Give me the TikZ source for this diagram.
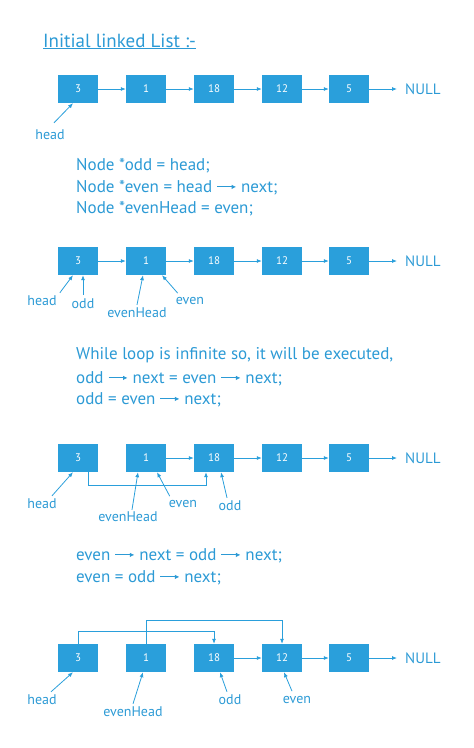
\documentclass[tikz,border=0pt]{standalone}
\usepackage{fontspec}
\setmainfont{PT Sans}
\usetikzlibrary{arrows.meta}

\definecolor{listblue}{HTML}{2A9FDB}
\definecolor{codeblue}{HTML}{2C9AD5}

\newcommand{\ptrarrow}{\tikz[baseline=-0.6ex]\draw[codeblue,line width=0.9pt,-{Latex[length=4.5pt,width=4.5pt]}] (0pt,0pt) -- (19pt,0pt);}

\tikzset{
  listbox/.style={fill=listblue, text=white, minimum width=40pt, minimum height=28pt,
    inner sep=0pt, font=\fontsize{11}{12}\selectfont},
  link/.style={listblue, line width=0.8pt, -{Latex[length=5pt,width=4pt]}},
  tag/.style={text=codeblue, inner sep=1pt, font=\fontsize{14}{16}\selectfont},
  code/.style={text=codeblue, anchor=base west, inner sep=0pt, font=\fontsize{17}{20}\selectfont},
  nullnode/.style={text=codeblue, anchor=west, inner xsep=8pt, inner ysep=0pt, font=\fontsize{15}{17}\selectfont}
}

\begin{document}
\begin{tikzpicture}[x=1pt,y=-1pt]
    \useasboundingbox (0,0) rectangle (474,748);

    \node[code, font=\fontsize{19}{22}\selectfont] (title) at (43,47) {\underline{Initial linked List :-}};

    % initial list
    \node[listbox] (A) at (78,89)  {3};
    \node[listbox] (B) at (146,89) {1};
    \node[listbox] (C) at (214,89) {18};
    \node[listbox] (D) at (282,89) {12};
    \node[listbox] (E) at (349,89) {5};
    \node[nullnode] (N) at (397,89) {NULL};
    \draw[link] (A) -- (B);
    \draw[link] (B) -- (C);
    \draw[link] (C) -- (D);
    \draw[link] (D) -- (E);
    \draw[link] (E) -- (N);
    \node[tag] (head) at (50,135) {head};
    \draw[link] ([shift={(4pt,6pt)}]head.north) -- ([xshift=-5pt]A.south);

    \node[code] (c1) at (76,170) {Node *odd = head;};
    \node[code] (c2) at (76,192) {Node *even = head \ptrarrow\ next;};
    \node[code] (c3) at (76,213) {Node *evenHead = even;};

    % after init
    \node[listbox] (1A) at (78,261)  {3};
    \node[listbox] (1B) at (146,261) {1};
    \node[listbox] (1C) at (214,261) {18};
    \node[listbox] (1D) at (282,261) {12};
    \node[listbox] (1E) at (349,261) {5};
    \node[nullnode] (1N) at (397,261) {NULL};
    \draw[link] (1A) -- (1B);
    \draw[link] (1B) -- (1C);
    \draw[link] (1C) -- (1D);
    \draw[link] (1D) -- (1E);
    \draw[link] (1E) -- (1N);
    \node[tag] (1head) at (42,301) {head};
    \node[tag] (1odd) at (83,304) {odd};
    \node[tag] (1evenHead) at (137,313) {evenHead};
    \node[tag] (1even) at (190,301) {even};
    \draw[link] ([shift={(2pt,2pt)}]1head.north east) -- ([xshift=-5pt]1A.south);
    \draw[link] ([yshift=3pt]1odd.north) -- ([xshift=5pt]1A.south);
    \draw[link] ([yshift=2pt]1evenHead.north) -- ([xshift=-3pt]1B.south);
    \draw[link] ([shift={(3pt,3pt)}]1even.north west) -- ([xshift=16pt]1B.south);

    \node[code] (c4) at (76,359) {While loop is infinite so, it will be executed,};
    \node[code] (c5) at (76,383) {odd \ptrarrow\ next = even \ptrarrow\ next;};
    \node[code] (c6) at (76,404) {odd = even \ptrarrow\ next;};

    % odd moved
    \node[listbox] (2A) at (78,458)  {3};
    \node[listbox] (2B) at (146,458) {1};
    \node[listbox] (2C) at (214,458) {18};
    \node[listbox] (2D) at (282,458) {12};
    \node[listbox] (2E) at (349,458) {5};
    \node[nullnode] (2N) at (397,458) {NULL};
    \draw[link] (2B) -- (2C);
    \draw[link] (2C) -- (2D);
    \draw[link] (2D) -- (2E);
    \draw[link] (2E) -- (2N);
    \draw[link] ([xshift=10pt]2A.south) -- ++(0,13) -| ([xshift=-8pt]2C.south);
    \node[tag] (2head) at (42,504) {head};
    \node[tag] (2evenHead) at (128,517) {evenHead};
    \node[tag] (2even) at (183,504) {even};
    \node[tag] (2odd) at (230,506) {odd};
    \draw[link] ([shift={(10pt,2pt)}]2head.north) -- ([xshift=-5pt]2A.south);
    \draw[link] ([shift={(4pt,1pt)}]2evenHead.north) -- ([xshift=-8pt]2B.south);
    \draw[link] ([shift={(2pt,3pt)}]2even.north west) -- ([xshift=11pt]2B.south);
    \draw[link] ([shift={(-3pt,2pt)}]2odd.north) -- ([xshift=7pt]2C.south);

    \node[code] (c7) at (76,560) {even \ptrarrow\ next = odd \ptrarrow\ next;};
    \node[code] (c8) at (76,582) {even = odd \ptrarrow\ next;};

    % even moved
    \node[listbox] (3A) at (78,658)  {3};
    \node[listbox] (3B) at (146,658) {1};
    \node[listbox] (3C) at (214,658) {18};
    \node[listbox] (3D) at (282,658) {12};
    \node[listbox] (3E) at (349,658) {5};
    \node[nullnode] (3N) at (397,658) {NULL};
    \draw[link] (3C) -- (3D);
    \draw[link] (3D) -- (3E);
    \draw[link] (3E) -- (3N);
    \draw[link] (3A.north) -- ++(0,-12) -| (3C.north);
    \draw[link] (3B.north) -- ++(0,-23) -| (3D.north);
    \node[tag] (3head) at (42,700) {head};
    \node[tag] (3evenHead) at (133,712) {evenHead};
    \node[tag] (3odd) at (230,700) {odd};
    \node[tag] (3even) at (297,700) {even};
    \draw[link] ([shift={(9pt,2pt)}]3head.north) -- ([xshift=-5pt]3A.south);
    \draw[link] ([yshift=2pt]3evenHead.north) -- ([xshift=-3pt]3B.south);
    \draw[link] ([shift={(-3pt,2pt)}]3odd.north) -- ([xshift=6pt]3C.south);
    \draw[link] ([shift={(-5pt,4pt)}]3even.north) -- ([xshift=2pt]3D.south);
\end{tikzpicture}
\end{document}
